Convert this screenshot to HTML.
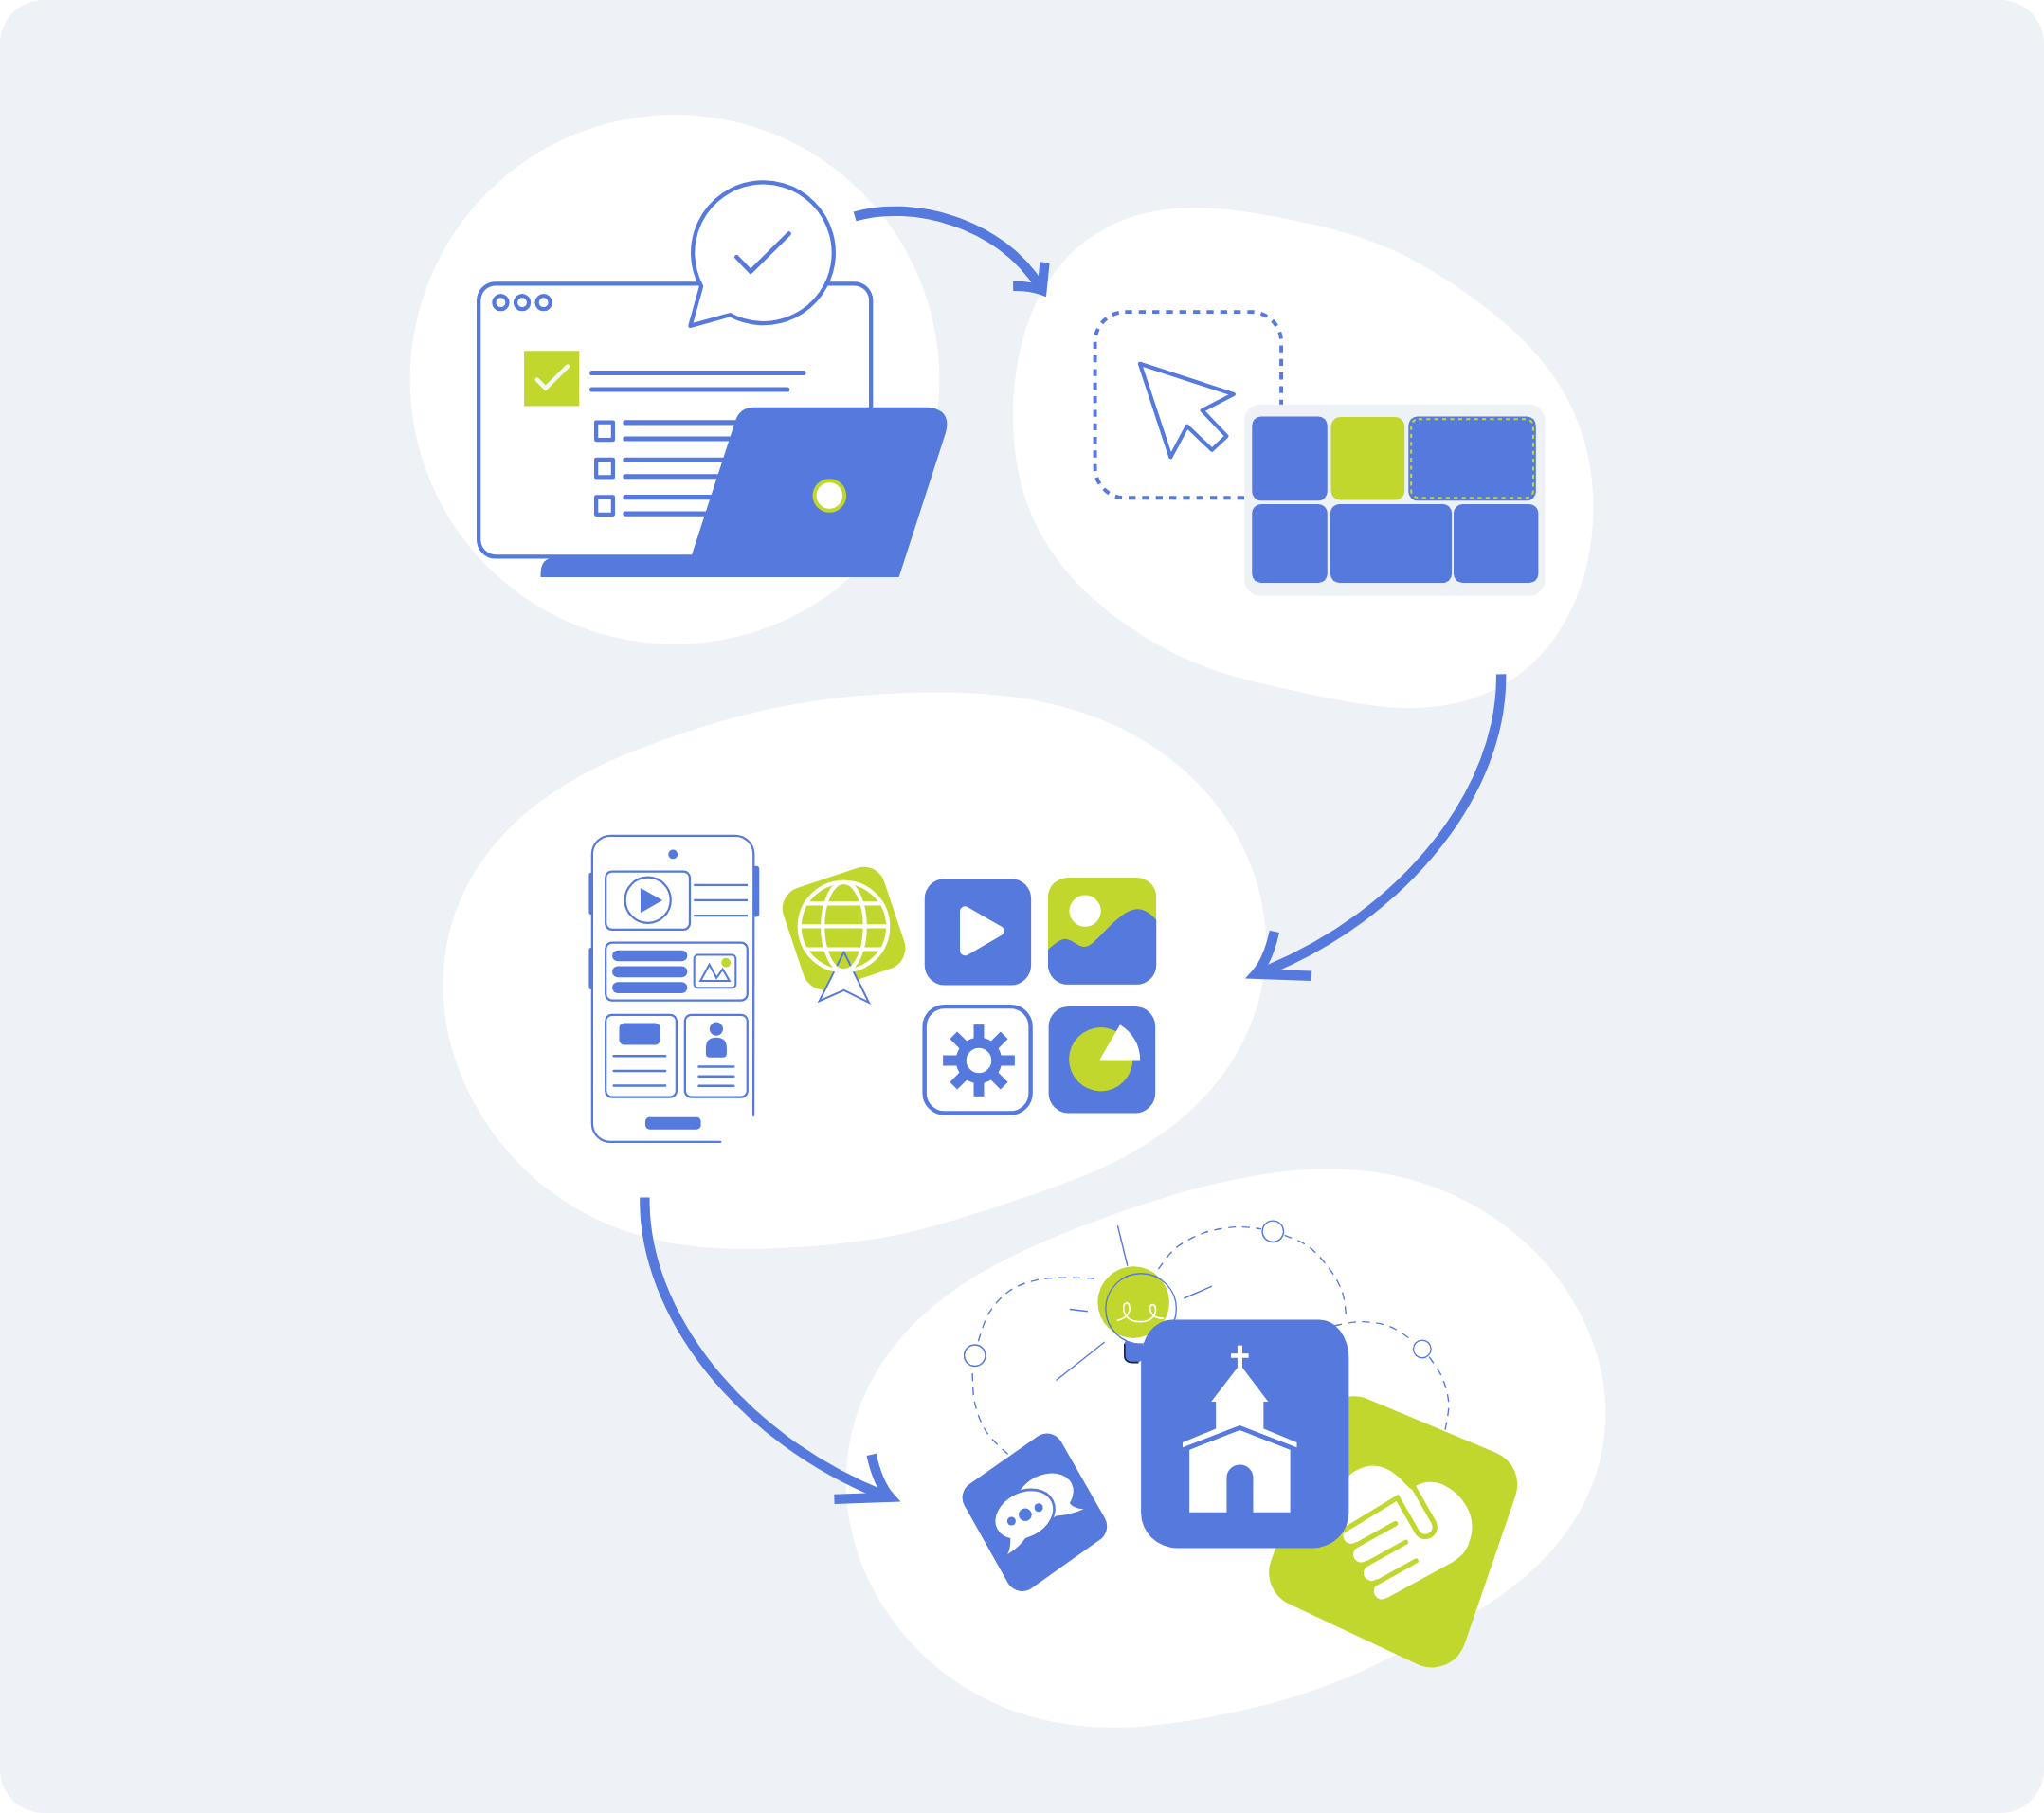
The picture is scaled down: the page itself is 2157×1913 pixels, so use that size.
<!DOCTYPE html>
<html><head><meta charset="utf-8"><title>Flow</title>
<style>
html,body{margin:0;padding:0;background:#ffffff;font-family:"Liberation Sans",sans-serif;}
body{width:2157px;height:1913px;overflow:hidden;}
svg{display:block;}
</style></head><body>
<svg width="2157" height="1913" viewBox="0 0 2157 1913">
<rect x="0" y="0" width="2157" height="1913" rx="46" ry="46" fill="#eef1f6"/>
<circle cx="712" cy="400.4" r="279.3" fill="#fff"/>
<path d="M1072.3,484.6 C1071.0,476.1 1070.1,467.3 1069.5,458.6 C1069.0,449.8 1068.8,440.9 1069.0,432.0 C1069.2,423.1 1069.7,414.1 1070.7,405.1 C1071.6,396.1 1072.9,387.0 1074.7,378.1 C1076.5,369.1 1078.6,360.0 1081.3,351.2 C1084.0,342.3 1087.2,333.5 1091.0,325.0 C1094.8,316.5 1099.1,308.1 1104.0,300.1 C1109.0,292.2 1114.6,284.6 1120.7,277.5 C1126.8,270.5 1133.6,263.9 1140.9,258.0 C1148.1,252.1 1156.0,246.8 1164.1,242.2 C1172.2,237.6 1180.9,233.8 1189.7,230.6 C1198.4,227.5 1207.6,225.1 1216.6,223.3 C1225.7,221.5 1235.0,220.4 1244.0,219.8 C1253.1,219.1 1262.2,219.1 1271.0,219.4 C1279.8,219.6 1288.5,220.4 1297.0,221.2 C1305.4,222.1 1313.6,223.2 1321.7,224.5 C1329.7,225.7 1337.5,227.1 1345.1,228.5 C1352.8,229.9 1360.2,231.4 1367.5,232.9 C1374.9,234.4 1382.0,236.0 1389.2,237.6 C1396.3,239.3 1403.2,241.0 1410.2,242.9 C1417.1,244.8 1423.9,246.7 1430.7,248.9 C1437.5,251.1 1444.2,253.4 1450.8,255.9 C1457.4,258.5 1463.9,261.2 1470.4,264.1 C1476.8,267.1 1483.2,270.2 1489.5,273.5 C1495.7,276.8 1501.9,280.3 1508.1,283.9 C1514.3,287.6 1520.3,291.4 1526.4,295.3 C1532.5,299.2 1538.6,303.3 1544.6,307.6 C1550.7,311.8 1556.8,316.2 1562.8,320.8 C1568.9,325.4 1575.0,330.1 1581.1,335.1 C1587.1,340.2 1593.2,345.4 1599.1,351.0 C1605.0,356.5 1610.9,362.3 1616.6,368.5 C1622.2,374.7 1627.7,381.2 1632.9,388.1 C1638.1,394.9 1643.0,402.1 1647.5,409.6 C1652.0,417.1 1656.2,425.0 1659.9,433.1 C1663.6,441.2 1666.9,449.6 1669.6,458.2 C1672.4,466.8 1674.7,475.7 1676.5,484.6 C1678.3,493.6 1679.6,502.8 1680.4,512.0 C1681.2,521.2 1681.5,530.6 1681.3,540.0 C1681.2,549.3 1680.5,558.8 1679.4,568.2 C1678.2,577.6 1676.6,587.0 1674.4,596.3 C1672.2,605.6 1669.5,614.9 1666.2,623.9 C1662.9,632.9 1659.0,641.8 1654.5,650.3 C1650.1,658.8 1645.0,667.2 1639.3,674.9 C1633.6,682.7 1627.2,690.1 1620.4,696.8 C1613.5,703.5 1606.0,709.8 1598.1,715.2 C1590.2,720.7 1581.7,725.5 1573.0,729.5 C1564.3,733.6 1555.2,736.9 1546.0,739.5 C1536.8,742.1 1527.3,743.9 1517.9,745.1 C1508.6,746.4 1499.1,746.9 1489.9,747.0 C1480.7,747.1 1471.5,746.6 1462.6,745.9 C1453.8,745.2 1445.1,744.0 1436.7,742.8 C1428.3,741.6 1420.2,740.1 1412.3,738.6 C1404.4,737.1 1396.8,735.5 1389.4,734.0 C1381.9,732.4 1374.7,730.9 1367.5,729.3 C1360.4,727.8 1353.5,726.3 1346.5,724.7 C1339.6,723.1 1332.8,721.6 1326.1,719.9 C1319.3,718.3 1312.6,716.6 1305.9,714.7 C1299.2,712.8 1292.6,710.9 1286.0,708.7 C1279.4,706.5 1272.9,704.1 1266.4,701.6 C1259.9,699.0 1253.5,696.2 1247.1,693.2 C1240.7,690.3 1234.4,687.1 1228.2,683.7 C1221.9,680.3 1215.7,676.8 1209.5,673.0 C1203.3,669.2 1197.2,665.2 1191.1,661.1 C1185.0,656.9 1179.0,652.5 1173.0,647.9 C1167.1,643.2 1161.1,638.4 1155.3,633.3 C1149.5,628.1 1143.8,622.7 1138.3,617.0 C1132.7,611.3 1127.3,605.3 1122.3,599.0 C1117.2,592.7 1112.3,586.1 1107.8,579.2 C1103.3,572.3 1099.1,565.1 1095.3,557.6 C1091.5,550.1 1088.1,542.4 1085.1,534.4 C1082.1,526.5 1079.6,518.3 1077.4,510.0 C1075.3,501.7 1073.6,493.2 1072.3,484.6 Z" fill="#fff"/>
<path d="M467.6,1042.7 C467.4,1030.5 468.2,1018.0 469.9,1005.9 C471.7,993.7 474.5,981.6 478.2,969.9 C482.0,958.2 486.7,946.7 492.3,935.8 C497.8,924.9 504.3,914.3 511.5,904.4 C518.6,894.6 526.6,885.2 535.0,876.5 C543.3,867.8 552.4,859.8 561.7,852.3 C570.9,844.9 580.6,838.1 590.3,831.9 C600.0,825.6 610.0,820.0 619.9,814.8 C629.7,809.6 639.6,805.0 649.4,800.6 C659.1,796.3 668.8,792.4 678.3,788.7 C687.8,785.0 697.1,781.6 706.4,778.4 C715.6,775.2 724.6,772.2 733.6,769.4 C742.6,766.5 751.4,763.8 760.2,761.3 C769.0,758.8 777.7,756.4 786.4,754.2 C795.2,752.0 803.8,750.0 812.5,748.1 C821.2,746.2 829.9,744.5 838.6,743.0 C847.3,741.4 856.1,740.1 864.9,738.8 C873.7,737.6 882.5,736.5 891.4,735.6 C900.4,734.7 909.4,733.9 918.5,733.2 C927.7,732.5 936.9,731.9 946.3,731.5 C955.8,731.1 965.3,730.7 975.1,730.6 C984.9,730.5 994.8,730.4 1005.0,730.6 C1015.2,730.9 1025.7,731.3 1036.3,732.0 C1047.0,732.8 1057.9,733.8 1068.9,735.3 C1080.0,736.8 1091.3,738.7 1102.6,741.2 C1113.9,743.7 1125.5,746.6 1136.9,750.2 C1148.3,753.9 1159.8,758.1 1171.1,763.1 C1182.3,768.1 1193.6,773.7 1204.4,780.1 C1215.2,786.6 1225.8,793.7 1235.9,801.6 C1245.9,809.4 1255.6,818.1 1264.6,827.3 C1273.5,836.6 1282.0,846.6 1289.5,857.1 C1297.1,867.6 1304.0,878.9 1309.9,890.4 C1315.7,902.0 1320.8,914.2 1324.8,926.6 C1328.7,939.0 1331.8,951.9 1333.6,964.8 C1335.5,977.6 1336.2,990.9 1335.9,1003.9 C1335.5,1016.8 1334.0,1030.0 1331.3,1042.7 C1328.7,1055.5 1324.9,1068.1 1320.1,1080.2 C1315.4,1092.3 1309.4,1104.2 1302.8,1115.3 C1296.1,1126.4 1288.4,1137.0 1280.1,1146.9 C1271.9,1156.7 1262.7,1166.0 1253.4,1174.5 C1244.0,1182.9 1233.9,1190.7 1223.9,1197.8 C1213.9,1204.8 1203.4,1211.1 1193.1,1216.9 C1182.9,1222.7 1172.5,1227.7 1162.4,1232.4 C1152.3,1237.1 1142.2,1241.2 1132.5,1245.0 C1122.9,1248.9 1113.4,1252.3 1104.2,1255.5 C1095.1,1258.8 1086.3,1261.7 1077.7,1264.6 C1069.0,1267.5 1060.8,1270.2 1052.6,1272.9 C1044.5,1275.6 1036.6,1278.1 1028.8,1280.6 C1021.0,1283.1 1013.3,1285.5 1005.7,1287.7 C998.1,1290.0 990.5,1292.2 983.0,1294.2 C975.4,1296.3 967.9,1298.2 960.4,1299.9 C952.8,1301.6 945.2,1303.2 937.6,1304.7 C930.0,1306.1 922.4,1307.3 914.7,1308.5 C907.0,1309.6 899.3,1310.6 891.4,1311.5 C883.6,1312.4 875.8,1313.2 867.7,1313.9 C859.7,1314.6 851.6,1315.2 843.3,1315.8 C835.0,1316.3 826.6,1316.8 817.9,1317.2 C809.3,1317.5 800.4,1317.8 791.3,1317.8 C782.2,1317.9 772.9,1317.8 763.4,1317.4 C753.8,1316.9 744.1,1316.3 734.1,1315.2 C724.2,1314.1 714.0,1312.7 703.9,1310.7 C693.7,1308.6 683.3,1306.2 673.0,1303.1 C662.7,1300.0 652.3,1296.4 642.1,1292.0 C632.0,1287.7 621.8,1282.8 612.0,1277.2 C602.1,1271.7 592.4,1265.4 583.2,1258.6 C573.9,1251.8 564.8,1244.3 556.3,1236.2 C547.8,1228.2 539.6,1219.5 532.0,1210.3 C524.4,1201.2 517.2,1191.4 510.8,1181.3 C504.3,1171.1 498.3,1160.5 493.1,1149.5 C487.9,1138.5 483.3,1127.0 479.6,1115.3 C476.0,1103.7 473.0,1091.6 470.9,1079.5 C468.9,1067.4 467.7,1055.0 467.6,1042.7 Z" fill="#fff"/>
<path d="M894.3,1536.9 C895.7,1525.0 898.1,1513.1 901.4,1501.6 C904.7,1490.2 909.0,1478.8 914.0,1468.1 C919.0,1457.3 925.0,1446.8 931.5,1437.0 C938.0,1427.1 945.4,1417.8 953.0,1409.0 C960.7,1400.3 969.1,1392.1 977.5,1384.5 C986.0,1376.9 995.0,1369.9 1003.9,1363.4 C1012.9,1356.9 1022.1,1351.1 1031.1,1345.6 C1040.2,1340.1 1049.4,1335.1 1058.3,1330.4 C1067.3,1325.8 1076.3,1321.5 1085.0,1317.5 C1093.7,1313.5 1102.4,1309.8 1110.8,1306.2 C1119.3,1302.7 1127.6,1299.3 1135.8,1296.1 C1144.0,1292.9 1152.0,1289.9 1160.0,1286.9 C1168.1,1283.9 1175.9,1281.1 1183.8,1278.3 C1191.7,1275.6 1199.5,1272.9 1207.4,1270.4 C1215.2,1267.8 1223.1,1265.3 1231.0,1262.9 C1238.9,1260.5 1246.8,1258.2 1254.9,1256.0 C1262.9,1253.8 1271.0,1251.7 1279.3,1249.8 C1287.5,1247.8 1295.9,1245.9 1304.4,1244.2 C1312.9,1242.4 1321.6,1240.8 1330.4,1239.4 C1339.3,1238.1 1348.3,1236.8 1357.5,1235.9 C1366.7,1234.9 1376.1,1234.1 1385.6,1233.8 C1395.1,1233.4 1404.9,1233.3 1414.7,1233.7 C1424.6,1234.1 1434.6,1234.8 1444.7,1236.1 C1454.7,1237.3 1464.9,1239.0 1475.0,1241.3 C1485.2,1243.6 1495.4,1246.4 1505.4,1249.8 C1515.5,1253.2 1525.5,1257.1 1535.3,1261.7 C1545.1,1266.2 1554.8,1271.3 1564.2,1277.1 C1573.6,1282.8 1582.8,1289.1 1591.6,1295.9 C1600.3,1302.7 1608.9,1310.2 1616.9,1318.1 C1624.9,1326.0 1632.6,1334.4 1639.6,1343.3 C1646.7,1352.2 1653.3,1361.6 1659.3,1371.4 C1665.2,1381.2 1670.6,1391.4 1675.1,1401.9 C1679.7,1412.5 1683.6,1423.4 1686.6,1434.5 C1689.6,1445.5 1691.8,1457.0 1693.1,1468.4 C1694.3,1479.7 1694.7,1491.4 1694.0,1502.8 C1693.4,1514.2 1691.8,1525.7 1689.3,1536.9 C1686.8,1548.0 1683.3,1559.1 1679.1,1569.7 C1674.8,1580.2 1669.5,1590.5 1663.7,1600.3 C1657.9,1610.0 1651.2,1619.3 1644.2,1627.9 C1637.2,1636.6 1629.5,1644.8 1621.6,1652.4 C1613.8,1659.9 1605.5,1666.9 1597.2,1673.4 C1589.0,1680.0 1580.4,1685.9 1572.1,1691.5 C1563.8,1697.0 1555.4,1702.1 1547.2,1706.9 C1539.0,1711.7 1531.0,1716.2 1523.1,1720.4 C1515.2,1724.7 1507.6,1728.7 1500.0,1732.5 C1492.5,1736.4 1485.2,1740.1 1477.9,1743.7 C1470.7,1747.3 1463.6,1750.8 1456.5,1754.2 C1449.4,1757.5 1442.5,1760.8 1435.5,1763.9 C1428.5,1767.1 1421.5,1770.1 1414.5,1773.0 C1407.4,1775.8 1400.4,1778.6 1393.3,1781.1 C1386.2,1783.7 1379.0,1786.1 1371.8,1788.4 C1364.6,1790.7 1357.3,1792.9 1349.9,1794.9 C1342.5,1797.0 1335.1,1798.9 1327.5,1800.8 C1319.9,1802.6 1312.2,1804.4 1304.4,1806.1 C1296.5,1807.8 1288.6,1809.4 1280.4,1811.0 C1272.2,1812.6 1263.9,1814.1 1255.3,1815.5 C1246.6,1816.9 1237.8,1818.2 1228.7,1819.3 C1219.6,1820.4 1210.2,1821.4 1200.6,1821.9 C1191.0,1822.5 1181.1,1822.9 1171.1,1822.8 C1161.0,1822.6 1150.7,1822.2 1140.3,1821.1 C1129.9,1820.0 1119.3,1818.5 1108.7,1816.3 C1098.2,1814.1 1087.5,1811.3 1077.0,1807.8 C1066.6,1804.3 1056.0,1800.2 1045.9,1795.4 C1035.7,1790.6 1025.6,1785.1 1015.9,1778.9 C1006.3,1772.8 996.8,1765.9 987.9,1758.5 C978.9,1751.1 970.3,1743.0 962.4,1734.4 C954.4,1725.7 946.8,1716.5 940.0,1706.8 C933.1,1697.2 926.8,1686.9 921.2,1676.3 C915.7,1665.8 910.8,1654.7 906.8,1643.4 C902.8,1632.1 899.5,1620.4 897.2,1608.7 C894.9,1596.9 893.4,1584.8 892.9,1572.9 C892.5,1560.9 892.9,1548.8 894.3,1536.9 Z" fill="#fff"/>
<g transform="translate(400,100) scale(0.342466)">

<rect x="307" y="582" width="1209" height="841" rx="52" fill="#fff" stroke="#5679dd" stroke-width="12.5"/>
<circle cx="375" cy="640" r="20.5" fill="none" stroke="#5679dd" stroke-width="12.5"/>
<circle cx="441" cy="640" r="20.5" fill="none" stroke="#5679dd" stroke-width="12.5"/>
<circle cx="507" cy="640" r="20.5" fill="none" stroke="#5679dd" stroke-width="12.5"/>
<path d="M993,590 L959,712 L1081,678 A217,217 0 1 0 993,590 Z" fill="#fff" stroke="#5679dd" stroke-width="12.5" stroke-linejoin="round"/>
<polyline points="1102,500 1145,545 1263,428" fill="none" stroke="#5679dd" stroke-width="13.5" stroke-linecap="round" stroke-linejoin="round"/>
<rect x="447" y="789" width="170" height="170" fill="#c1d72e"/>
<polyline points="487,878 513,904 581,837" fill="none" stroke="#f4f6f4" stroke-width="13" stroke-linecap="round" stroke-linejoin="miter"/>
<g fill="none" stroke="#5679dd" stroke-width="15" stroke-linecap="round">
<line x1="656" y1="857" x2="1308" y2="857"/>
<line x1="656" y1="908" x2="1258" y2="908"/>
<line x1="759" y1="1010" x2="1150" y2="1010"/>
<line x1="759" y1="1060" x2="1150" y2="1060"/>
<line x1="759" y1="1125" x2="1150" y2="1125"/>
<line x1="759" y1="1176" x2="1150" y2="1176"/>
<line x1="759" y1="1240" x2="1150" y2="1240"/>
<line x1="759" y1="1291" x2="1150" y2="1291"/>
</g>
<g fill="none" stroke="#5679dd" stroke-width="12.5" stroke-linejoin="round">
<rect x="669" y="1009" width="52" height="54"/>
<rect x="669" y="1124" width="52" height="54"/>
<rect x="669" y="1239" width="52" height="54"/>
</g>
<path d="M963,1420 L1098,1005 Q1112,963 1156,963 L1688,963 Q1766,968 1746,1042 L1602,1486 L940,1486 Z" fill="#5679dd"/>
<path d="M498,1486 L498,1476 Q498,1426 544,1426 L1000,1426 L1000,1486 Z" fill="#5679dd"/>
<circle cx="1388" cy="1235" r="52" fill="#c1d72e"/>
<circle cx="1388" cy="1235" r="40" fill="#fff"/>

</g>
<g transform="translate(1050,200) scale(0.318004)">

<rect x="332" y="406" width="618" height="617" rx="100" fill="none" stroke="#5679dd" stroke-width="12.4" stroke-dasharray="23 22.065"/>
<polygon points="481,578 792,679 687.5,733 768.5,818 720,864 637.5,785.5 583,887.5" fill="#fff" stroke="#5679dd" stroke-width="13" stroke-linejoin="round"/>
<rect x="828" y="713" width="997" height="635" rx="52" fill="#eef1f6"/>
<rect x="853" y="753" width="250" height="279" rx="30" fill="#5679dd"/>
<rect x="1115" y="755" width="244" height="275" rx="30" fill="#c1d72e"/>
<rect x="1372" y="753" width="423" height="279" rx="30" fill="#5679dd"/>
<rect x="1381" y="762" width="405" height="261" rx="24" fill="none" stroke="#c1d72e" stroke-width="6.5" stroke-dasharray="13.2 13.2"/>
<rect x="853" y="1044" width="250" height="261" rx="30" fill="#5679dd"/>
<rect x="1113" y="1044" width="403" height="261" rx="30" fill="#5679dd"/>
<rect x="1522" y="1044" width="281" height="261" rx="30" fill="#5679dd"/>

</g>
<g transform="translate(600,860) scale(0.204082)">

<rect x="105" y="298" width="22" height="216" rx="11" fill="#5679dd"/>
<rect x="105" y="686" width="22" height="216" rx="11" fill="#5679dd"/>
<rect x="950" y="263" width="36" height="264" rx="16" fill="#5679dd"/>
<path d="M956,1553 L957,202 A95,95 0 0 0 862,107 L217,107 A95,95 0 0 0 122,202 L122,1595 A95,95 0 0 0 217,1690 L785,1690" fill="#fff" stroke="#5679dd" stroke-width="11" stroke-linecap="round"/>
<circle cx="540" cy="203" r="24" fill="#5679dd"/>
<rect x="192" y="292" width="435" height="300" rx="32" fill="none" stroke="#5679dd" stroke-width="11"/>
<circle cx="410" cy="440" r="118" fill="none" stroke="#5679dd" stroke-width="11"/>
<polygon points="372,377 372,506 486,441" fill="#5679dd"/>
<g fill="none" stroke="#5679dd" stroke-width="11">
<line x1="648" y1="362" x2="926" y2="362"/>
<line x1="648" y1="440" x2="926" y2="440"/>
<line x1="648" y1="520" x2="926" y2="520"/>
</g>
<rect x="192" y="660" width="733" height="298" rx="32" fill="none" stroke="#5679dd" stroke-width="11"/>
<rect x="226" y="699" width="388" height="57" rx="28" fill="#5679dd"/>
<rect x="226" y="782" width="388" height="57" rx="28" fill="#5679dd"/>
<rect x="226" y="864" width="388" height="57" rx="28" fill="#5679dd"/>
<rect x="650" y="723" width="214" height="170" rx="20" fill="none" stroke="#5679dd" stroke-width="10"/>
<circle cx="814" cy="763" r="24" fill="#c1d72e"/>
<polygon points="682,858 728,773 765,842 797,797 832,858" fill="none" stroke="#5679dd" stroke-width="10" stroke-linejoin="miter"/>
<rect x="192" y="1033" width="366" height="425" rx="32" fill="none" stroke="#5679dd" stroke-width="11"/>
<rect x="262" y="1075" width="212" height="113" rx="26" fill="#5679dd"/>
<g fill="none" stroke="#5679dd" stroke-width="12.5" stroke-linecap="round">
<line x1="234" y1="1246" x2="500" y2="1246"/>
<line x1="234" y1="1323" x2="500" y2="1323"/>
<line x1="234" y1="1399" x2="500" y2="1399"/>
<line x1="674" y1="1301" x2="854" y2="1301"/>
<line x1="674" y1="1351" x2="854" y2="1351"/>
<line x1="674" y1="1400" x2="854" y2="1400"/>
</g>
<rect x="602" y="1033" width="323" height="425" rx="32" fill="none" stroke="#5679dd" stroke-width="11"/>
<circle cx="764" cy="1106" r="35" fill="#5679dd"/>
<path d="M710,1232 L710,1204 Q710,1150 764,1150 Q818,1150 818,1204 L818,1232 Q818,1253 797,1253 L731,1253 Q710,1253 710,1232 Z" fill="#5679dd"/>
<rect x="397" y="1562" width="287" height="63" rx="22" fill="#5679dd"/>

</g>
<g transform="translate(810,900) scale(0.210372)">

<g transform="rotate(-18.5 383 378)"><rect x="117" y="112" width="532" height="532" rx="108" fill="#c1d72e"/></g>
<polygon points="383,497 508,750 383,688 260,742" fill="#fff"/>
<circle cx="382.5" cy="369" r="214" fill="#c1d72e"/>
<polygon points="383,497 508,750 383,688 260,742" fill="none" stroke="#5679dd" stroke-width="9.5" stroke-linejoin="miter"/>
<g fill="none" stroke="#fff" stroke-width="20">
<circle cx="382.5" cy="369" r="222"/>
<ellipse cx="382.5" cy="369" rx="106" ry="222"/>
<line x1="162" y1="368" x2="603" y2="368"/>
<line x1="192" y1="254" x2="573" y2="254"/>
<line x1="192" y1="482.5" x2="573" y2="482.5"/>
</g>

<rect x="788" y="129" width="534" height="534" rx="100" fill="#5679dd"/>
<polygon points="990,293 990,490 1162,391" fill="#fff" stroke="#fff" stroke-width="50" stroke-linejoin="round"/>

<clipPath id="imgclip"><rect x="1407" y="124" width="543" height="536" rx="98"/></clipPath>
<g clip-path="url(#imgclip)">
<rect x="1407" y="124" width="543" height="536" fill="#c1d72e"/>
<path d="M1400,492 C1440,455 1470,430 1497,432 C1535,436 1560,474 1597,470 C1650,464 1760,282 1855,282 C1900,282 1930,315 1960,345 L1960,670 L1400,670 Z" fill="#5679dd"/>
</g>
<circle cx="1593" cy="291" r="79" fill="#fff"/>

<rect x="787.5" y="770.5" width="532" height="534" rx="100" fill="#fff" stroke="#5679dd" stroke-width="21"/>
<g stroke="#5679dd" stroke-width="52" fill="none">
<line x1="1060" y1="861" x2="1060" y2="1221"/>
<line x1="880" y1="1041" x2="1240" y2="1041"/>
<line x1="933" y1="914" x2="1187" y2="1168"/>
<line x1="933" y1="1168" x2="1187" y2="914"/>
</g>
<circle cx="1060" cy="1041" r="89" fill="#fff" stroke="#5679dd" stroke-width="52"/>

<rect x="1410" y="770" width="535" height="535" rx="100" fill="#5679dd"/>
<circle cx="1672" cy="1035" r="160" fill="#c1d72e"/>
<path d="M1665,1039 L1869,1039 A204,204 0 0 0 1768,862 Z" fill="#fff"/>

</g>
<g transform="translate(1000,1270) scale(0.273973)">

<g fill="none" stroke="#5679dd" stroke-width="5" stroke-dasharray="30 24">
<path d="M232.0,965.0 C218.3,950.8 171.2,912.5 150.0,880.0 C128.8,847.5 114.2,808.3 105.0,770.0 C95.8,731.7 96.7,670.0 95.0,650.0"/><path d="M118.0,530.0 C125.0,511.7 139.7,452.5 160.0,420.0 C180.3,387.5 210.0,355.8 240.0,335.0 C270.0,314.2 303.3,303.3 340.0,295.0 C376.7,286.7 418.3,285.8 460.0,285.0 C501.7,284.2 568.3,289.2 590.0,290.0"/>
<path d="M812.0,252.0 C823.3,238.3 850.3,193.3 880.0,170.0 C909.7,146.7 951.7,125.3 990.0,112.0 C1028.3,98.7 1073.7,92.5 1110.0,90.0 C1146.3,87.5 1191.7,95.8 1208.0,97.0"/><path d="M1298.0,122.0 C1313.3,129.2 1361.3,143.7 1390.0,165.0 C1418.7,186.3 1448.3,220.8 1470.0,250.0 C1491.7,279.2 1509.2,310.0 1520.0,340.0 C1530.8,370.0 1532.5,415.0 1535.0,430.0"/>
<path d="M1490.0,470.0 C1506.7,467.5 1555.0,454.7 1590.0,455.0 C1625.0,455.3 1665.8,459.5 1700.0,472.0 C1734.2,484.5 1779.2,520.3 1795.0,530.0"/><path d="M1855.0,590.0 C1863.3,603.3 1892.5,640.0 1905.0,670.0 C1917.5,700.0 1928.3,735.0 1930.0,770.0 C1931.7,805.0 1917.5,861.7 1915.0,880.0"/>
</g>
<circle cx="105" cy="585" r="41" fill="#fff" stroke="#5679dd" stroke-width="5"/>
<circle cx="1253" cy="107" r="41" fill="#fff" stroke="#5679dd" stroke-width="5"/>
<circle cx="1828" cy="560" r="34" fill="#fff" stroke="#5679dd" stroke-width="5"/>
<g fill="none" stroke="#5679dd" stroke-width="5">
<line x1="655" y1="85" x2="693" y2="240"/>
<line x1="910" y1="365" x2="1018" y2="318"/>
<line x1="470" y1="407" x2="540" y2="415"/>
<line x1="418" y1="681" x2="605" y2="533"/>
</g>
<rect x="680" y="520" width="72" height="92" rx="24" fill="#5679dd"/>
<path d="M682,540 L682,585 Q682,612 712,612 L735,612" fill="none" stroke="#1c2340" stroke-width="6"/>
<circle cx="745" cy="405" r="136" fill="#fff"/>
<circle cx="716" cy="380" r="138" fill="#c1d72e"/>
<circle cx="745" cy="405" r="136" fill="none" stroke="#5679dd" stroke-width="5"/>
<path d="M655,450 C690,440 705,420 700,395 C697,378 680,378 678,398 C675,430 700,455 740,455 C790,455 805,425 800,400 C797,385 780,385 780,402 C780,430 800,440 830,442" fill="none" stroke="#fff" stroke-width="6" stroke-linecap="round"/>

</g>
<g transform="translate(1000,1490) scale(0.115808)">

<polygon points="905,345 1302,1040 680,1482 285,780" fill="#5679dd" stroke="#5679dd" stroke-width="300" stroke-linejoin="round"/>
<g transform="rotate(-27 885 775)"><ellipse cx="885" cy="775" rx="275" ry="200" fill="#fff"/></g>
<path d="M1130,700 C1125,760 1105,800 1108,822 C1130,860 1180,880 1240,882 C1160,920 1060,940 985,945 Z" fill="#fff"/>
<g transform="rotate(-27 698 937)"><ellipse cx="698" cy="937" rx="287" ry="212" fill="#fff" stroke="#5679dd" stroke-width="22"/></g>
<path d="M570,1090 C577,1200 570,1250 545,1295 C600,1265 660,1215 708,1148 L700,1080 Z" fill="#fff"/>
<circle cx="582" cy="993" r="39" fill="#5679dd"/>
<circle cx="707" cy="935" r="59" fill="#5679dd"/>
<circle cx="830" cy="870" r="39" fill="#5679dd"/>

</g>
<g transform="translate(1320,1450) scale(0.182039)">

<polygon points="600,328 1345,640 1050,1500 305,1150" fill="#c1d72e" stroke="#c1d72e" stroke-width="400" stroke-linejoin="round"/>
<path d="M495.0,900.0 C494.2,880.0 485.8,820.0 490.0,780.0 C494.2,740.0 507.0,691.7 520.0,660.0 C533.0,628.3 551.3,607.8 568.0,590.0 C584.7,572.2 598.0,563.0 620.0,553.0 C642.0,543.0 673.3,531.3 700.0,530.0 C726.7,528.7 755.0,535.0 780.0,545.0 C805.0,555.0 830.0,574.2 850.0,590.0 C870.0,605.8 885.8,627.0 900.0,640.0 C914.2,653.0 925.0,667.2 935.0,668.0 C945.0,668.8 949.2,651.3 960.0,645.0 C970.8,638.7 985.0,633.3 1000.0,630.0 C1015.0,626.7 1033.3,624.2 1050.0,625.0 C1066.7,625.8 1083.3,629.2 1100.0,635.0 C1116.7,640.8 1133.3,649.2 1150.0,660.0 C1166.7,670.8 1185.0,685.0 1200.0,700.0 C1215.0,715.0 1228.3,731.7 1240.0,750.0 C1251.7,768.3 1263.0,790.0 1270.0,810.0 C1277.0,830.0 1280.7,850.0 1282.0,870.0 C1283.3,890.0 1281.7,910.0 1278.0,930.0 C1274.3,950.0 1268.0,971.7 1260.0,990.0 C1252.0,1008.3 1241.7,1025.8 1230.0,1040.0 C1218.3,1054.2 1203.3,1065.0 1190.0,1075.0 C1176.7,1085.0 1156.7,1095.8 1150.0,1100.0 L790,1297 L770,1255 L592,933 L560,895 Z" fill="#fff"/>
<g stroke="#fff" stroke-width="93" stroke-linecap="round" fill="none">
<line x1="581" y1="936" x2="860" y2="781"/>
<line x1="640" y1="1044" x2="920" y2="889"/>
<line x1="700" y1="1152" x2="980" y2="997"/>
<line x1="759" y1="1258" x2="1040" y2="1103"/>
</g>
<g stroke="#c1d72e" stroke-width="29" stroke-linecap="round" fill="none">
<line x1="838" y1="866" x2="480" y2="1065"/>
<line x1="898" y1="974" x2="540" y2="1173"/>
<line x1="957" y1="1082" x2="600" y2="1281"/>
</g>
<path d="M440,966 L850,716 L965,917 A56,56 0 0 0 1063,864 L940,648" fill="none" stroke="#c1d72e" stroke-width="29" stroke-linejoin="miter" stroke-linecap="butt"/>

</g>
<g transform="translate(1200,1390) scale(0.137890)">

<path d="M30,318 A235,300 0 0 1 265,18 L1395,18 A225,290 0 0 1 1620,308 L1620,1495 A275,270 0 0 1 1345,1765 L305,1765 A275,270 0 0 1 30,1495 Z" fill="#5679dd"/>
<g fill="#fff">
<rect x="768" y="215" width="37" height="190"/>
<rect x="718" y="277" width="135" height="33"/>
<polygon points="768,385 805,385 1003,645 567,645"/>
<rect x="603" y="640" width="364" height="260"/>
<polygon points="348,958 785,776 1222,958 1222,1002 785,845 348,1002"/>
<polygon points="400,1013 785,862 1172,1013 1172,1492 400,1492"/>
</g>
<polyline points="322,1023 785,845 1248,1023" fill="none" stroke="#5679dd" stroke-width="33" stroke-linejoin="miter"/>
<path d="M685,1494 L685,1229 A101.5,101.5 0 0 1 888,1229 L888,1494 Z" fill="#5679dd"/>

</g>
<g transform="translate(860,180) scale(0.146771)">
<path d="M287,330 C700,210 1330,370 1618,835" fill="none" stroke="#5679dd" stroke-width="70"/>
<path d="M1425,830 Q1545,828 1632,860 L1652,660" fill="none" stroke="#5679dd" stroke-width="70" stroke-linejoin="miter" stroke-miterlimit="10"/>
</g>
<g transform="translate(1280,690) scale(0.204082)">
<path d="M1490.0,105.0 C1500.0,700.0 1000.0,1350.0 250.0,1648.0" fill="none" stroke="#5679dd" stroke-width="51"/>
<path d="M318.0,1435.0 Q285.0,1585.0 222.0,1655.0 L510.0,1665.0" fill="none" stroke="#5679dd" stroke-width="51" stroke-linejoin="miter" stroke-miterlimit="10"/>
</g>
<g transform="translate(640,1240) scale(0.204082)">
<path d="M198.0,115.0 C188.0,710.0 688.0,1360.0 1438.0,1658.0" fill="none" stroke="#5679dd" stroke-width="51"/>
<path d="M1370.0,1445.0 Q1403.0,1595.0 1466.0,1665.0 L1178.0,1675.0" fill="none" stroke="#5679dd" stroke-width="51" stroke-linejoin="miter" stroke-miterlimit="10"/>
</g>

</svg>
</body></html>
